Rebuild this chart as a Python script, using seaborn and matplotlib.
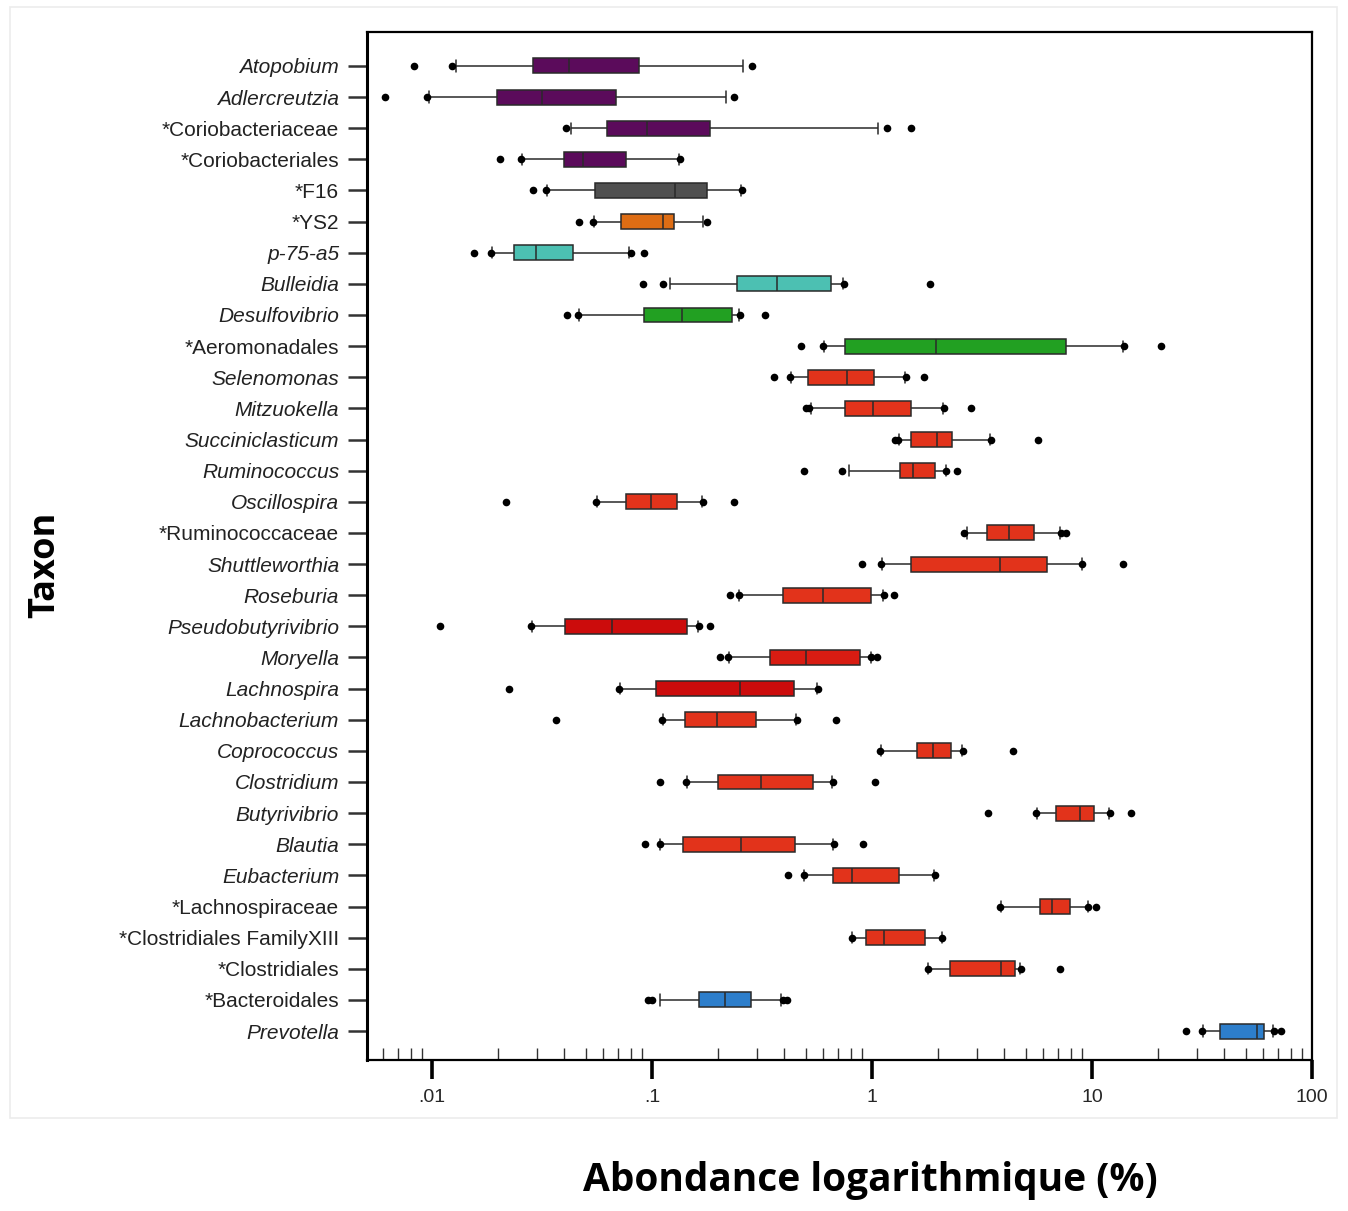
import numpy as np
import pandas as pd
import seaborn as sns
import matplotlib
matplotlib.use("Agg")
from matplotlib import pyplot as plt
from matplotlib.ticker import FixedLocator, NullFormatter, LogLocator
from matplotlib.patches import Rectangle

# taxa, top to bottom
taxa = ["Atopobium", "Adlercreutzia", "*Coriobacteriaceae", "*Coriobacteriales",
        "*F16", "*YS2", "p-75-a5", "Bulleidia", "Desulfovibrio", "*Aeromonadales",
        "Selenomonas", "Mitzuokella", "Succiniclasticum", "Ruminococcus",
        "Oscillospira", "*Ruminococcaceae", "Shuttleworthia", "Roseburia",
        "Pseudobutyrivibrio", "Moryella", "Lachnospira", "Lachnobacterium",
        "Coprococcus", "Clostridium", "Butyrivibrio", "Blautia", "Eubacterium",
        "*Lachnospiraceae", "*Clostridiales FamilyXIII", "*Clostridiales",
        "*Bacteroidales", "Prevotella"]

# five-number summaries (% abundance)
whisk_lo = [0.0129, 0.0097, 0.0427, 0.0258, 0.0332, 0.0547, 0.0188, 0.121, 0.0466, 0.607,
            0.427, 0.526, 1.33, 0.786, 0.0564, 2.70, 1.109, 0.250, 0.0285, 0.224,
            0.0717, 0.1125, 1.10, 0.1446, 5.62, 0.109, 0.492, 3.85, 0.815, 1.80,
            0.1084, 31.9]
q1 = [0.0288, 0.0198, 0.0622, 0.0398, 0.0551, 0.0723, 0.0236, 0.2426, 0.092, 0.754,
      0.514, 0.754, 1.50, 1.345, 0.0759, 3.32, 1.50, 0.394, 0.0401, 0.345,
      0.1048, 0.1415, 1.60, 0.1995, 6.89, 0.139, 0.663, 5.80, 0.942, 2.27,
      0.163, 38.1]
median = [0.042, 0.0317, 0.0946, 0.0484, 0.127, 0.1126, 0.0296, 0.371, 0.1365, 1.954,
          0.772, 1.007, 1.97, 1.54, 0.0994, 4.20, 3.80, 0.596, 0.066, 0.499,
          0.252, 0.198, 1.89, 0.313, 8.82, 0.254, 0.815, 6.59, 1.14, 3.85,
          0.2145, 56.5]
q3 = [0.0875, 0.0686, 0.1836, 0.0762, 0.178, 0.126, 0.0439, 0.649, 0.232, 7.59,
      1.025, 1.50, 2.31, 1.93, 0.1306, 5.46, 6.26, 0.992, 0.1448, 0.884,
      0.441, 0.296, 2.29, 0.540, 10.24, 0.445, 1.325, 7.92, 1.74, 4.49,
      0.283, 60.8]
whisk_hi = [0.260, 0.217, 1.068, 0.133, 0.254, 0.170, 0.0788, 0.736, 0.249, 13.87,
            1.42, 2.11, 3.44, 2.16, 0.168, 7.14, 8.97, 1.12, 0.162, 0.987,
            0.565, 0.451, 2.56, 0.659, 12.0, 0.667, 1.92, 9.55, 2.08, 4.71,
            0.387, 66.2]
outliers = [[0.0083, 0.0123, 0.284], [0.0061, 0.0095, 0.236], [0.0409, 1.166, 1.50],
            [0.0205, 0.0253, 0.134], [0.0288, 0.0330, 0.256], [0.0466, 0.0540, 0.178],
            [0.0155, 0.0186, 0.080, 0.092], [0.0913, 0.112, 0.745, 1.84],
            [0.0411, 0.0462, 0.252, 0.325], [0.475, 0.600, 14.0, 20.6],
            [0.360, 0.422, 1.43, 1.73], [0.499, 0.520, 2.13, 2.82],
            [1.27, 1.31, 3.47, 5.70], [0.491, 0.733, 2.18, 2.43],
            [0.0217, 0.0558, 0.170, 0.235], [2.61, 7.25, 7.60],
            [0.902, 1.10, 9.05, 13.8], [0.2256, 0.248, 1.13, 1.256],
            [0.0109, 0.0282, 0.164, 0.183], [0.203, 0.222, 0.995, 1.056],
            [0.0224, 0.0712, 0.570], [0.0365, 0.1115, 0.455, 0.685],
            [1.09, 2.58, 4.36], [0.109, 0.1435, 0.665, 1.036],
            [3.38, 5.58, 12.1, 15.1], [0.0931, 0.1085, 0.672, 0.912],
            [0.416, 0.490, 1.93], [3.82, 9.6, 10.4], [0.81, 2.09],
            [1.79, 4.75, 7.19], [0.0955, 0.0996, 0.395, 0.412],
            [26.8, 31.5, 67.5, 72.2]]

purple, grey, orange, teal = "#5b0b5b", "#505050", "#de6d14", "#4cc0b2"
green, red, dred, mred, blue = "#22a022", "#e2331b", "#cc0c0c", "#d81c12", "#2d7ecb"
colors = [purple] * 4 + [grey, orange, teal, teal, green, green] + [red] * 8 + \
         [dred, mred, dred] + [red] * 9 + [blue, blue]
palette = dict(zip(taxa, colors))

# long table: the five summary values per taxon give exact quantiles with whis=(0, 100)
box_df = pd.DataFrame({
    "taxon": np.repeat(taxa, 5),
    "value": np.column_stack([whisk_lo, q1, median, q3, whisk_hi]).ravel(),
})
out_df = pd.DataFrame({
    "taxon": [t for t, o in zip(taxa, outliers) for _ in o],
    "value": [v for o in outliers for v in o],
})

sns.set_style("white")
plt.rcParams["font.family"] = ["Liberation Sans", "DejaVu Sans"]

fig = plt.figure(figsize=(13.48, 12.11), dpi=100)
ax = fig.add_axes([367 / 1348, 1 - 1060 / 1211, 945 / 1348, 1028 / 1211])

sns.boxplot(data=box_df, x="value", y="taxon", hue="taxon", order=taxa, hue_order=taxa,
            palette=palette, whis=(0, 100), width=0.48, linecolor="#2a2a2a",
            linewidth=1.1, log_scale=True, legend=False, saturation=1,
            capwidths=0.36, ax=ax)
sns.stripplot(data=out_df, x="value", y="taxon", order=taxa, jitter=False,
              color="black", size=5.5, ax=ax)

ax.set_xlim(0.00507, 100)
ax.set_ylim(31.93, -1.09)

ax.xaxis.set_major_locator(FixedLocator([0.01, 0.1, 1, 10, 100]))
ax.set_xticklabels([".01", ".1", "1", "10", "100"])
ax.xaxis.set_minor_locator(LogLocator(base=10, subs=np.arange(2, 10)))
ax.xaxis.set_minor_formatter(NullFormatter())
ax.tick_params(axis="x", which="major", direction="out", length=14, width=2.6,
               labelsize=14, pad=7, color="black", bottom=True)
ax.tick_params(axis="x", which="minor", direction="in", length=9, width=1.0,
               color="#333333", bottom=True)
ax.tick_params(axis="y", which="major", direction="out", length=14, width=1.8,
               labelsize=15, pad=6, color="#333333", left=True)

ax.set_yticks(range(len(taxa)))
ax.set_yticklabels(taxa)
for lab in ax.get_yticklabels():
    if not lab.get_text().startswith("*"):
        lab.set_fontstyle("italic")
    lab.set_color("#222222")

for side in ["left", "right", "top", "bottom"]:
    ax.spines[side].set_visible(True)
    ax.spines[side].set_color("black")
    ax.spines[side].set_linewidth(1.6)
ax.spines["left"].set_linewidth(2.2)

ax.set_xlabel("")
ax.set_ylabel("")
fig.text(870 / 1348, 1 - 1181 / 1211, "Abondance logarithmique (%)", ha="center",
         va="center", fontsize=28, fontweight="bold", color="black",
         family=["Open Sans", "DejaVu Sans"])
fig.text(45 / 1348, 1 - 565 / 1211, "Taxon", ha="center", va="center", rotation=90,
         fontsize=26, fontweight="bold", color="black",
         family=["Open Sans", "DejaVu Sans"])

fig.patches.append(Rectangle((10 / 1348, 1 - 1118 / 1211), 1327 / 1348, 1111 / 1211,
                             transform=fig.transFigure, fill=False,
                             edgecolor="#ececec", linewidth=1.2))

plt.savefig("out.png", dpi=100)
